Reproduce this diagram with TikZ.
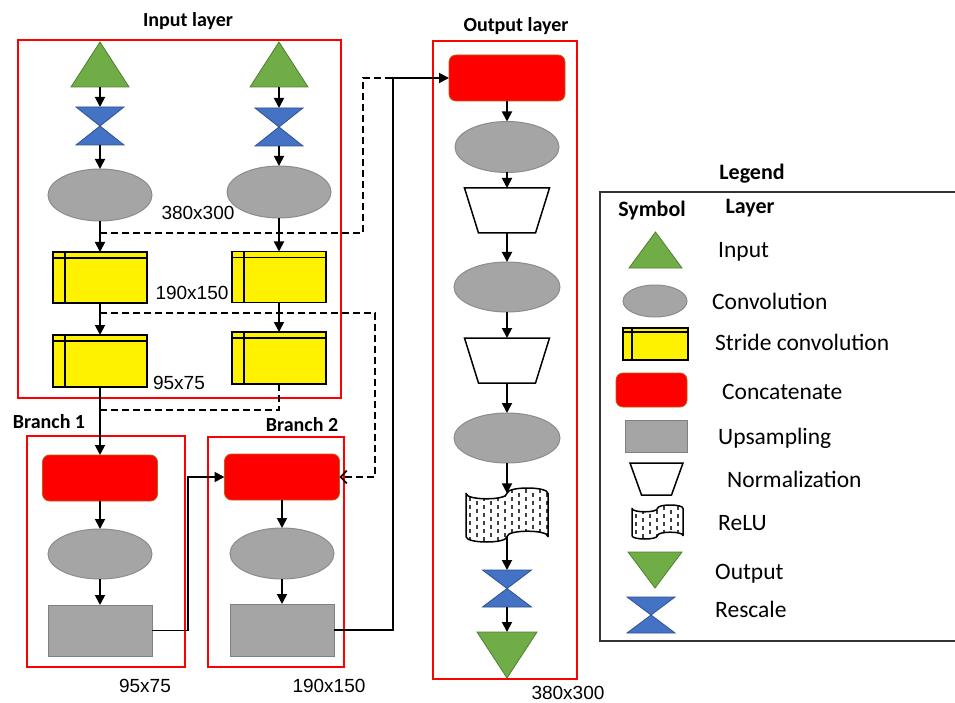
\documentclass[tikz,border=0pt]{standalone}
\usepackage{fontspec}
\setmainfont{Carlito}
\newfontfamily\dimfont{Liberation Sans}
\usetikzlibrary{arrows.meta,calc,shapes.geometric}
\definecolor{tgreen}{HTML}{70AD47}
\definecolor{tgreenE}{HTML}{507E32}
\definecolor{hblue}{HTML}{4472C4}
\definecolor{hblueE}{HTML}{2F528F}
\definecolor{cgrey}{HTML}{A5A5A5}
\definecolor{cgreyE}{HTML}{8C8C8C}
\definecolor{concE}{HTML}{C55A11}
\definecolor{upE}{HTML}{808080}
\tikzset{
 box/.style 2 args={rectangle,draw=none,inner sep=0pt,outer sep=0pt,minimum width=#1pt,minimum height=#2pt},
 conv/.style 2 args={ellipse,fill=cgrey,draw=cgreyE,line width=1pt,inner sep=0pt,outer sep=0pt,minimum width=#1pt,minimum height=#2pt},
 concat/.style 2 args={rectangle,rounded corners=7pt,fill=red,draw=concE,line width=0.8pt,inner sep=0pt,outer sep=0pt,minimum width=#1pt,minimum height=#2pt},
 upsamp/.style 2 args={rectangle,fill=cgrey,draw=upE,line width=0.8pt,inner sep=0pt,outer sep=0pt,minimum width=#1pt,minimum height=#2pt},
 stride/.style 2 args={rectangle,fill=yellow,draw=black,line width=1.3pt,inner sep=0pt,outer sep=0pt,minimum width=#1pt,minimum height=#2pt},
 greenshape/.style={fill=tgreen,draw=tgreenE,line width=0.8pt},
 blueshape/.style={fill=hblue,draw=hblueE,line width=0.8pt},
 trapshape/.style={fill=white,draw=black,line width=1.5pt},
 frame/.style={draw=red,line width=1.3pt},
 conn/.style={line width=1.8pt,-{Triangle[length=10pt,width=10pt]}},
 dashconn/.style={line width=1.8pt,dash pattern=on 7pt off 4pt},
 hdr/.style={font=\bfseries\fontsize{20}{24}\selectfont,inner sep=0pt,text height=13pt,text depth=0pt},
 dimlbl/.style={font=\dimfont\fontsize{19}{22}\selectfont,inner sep=0pt,text height=13.6pt,text depth=0pt},
 leg/.style={font=\fontsize{23.5}{28}\selectfont,anchor=west,inner sep=0pt,text height=15pt,text depth=0pt},
 leghdr/.style={font=\bfseries\fontsize{22}{26}\selectfont,inner sep=0pt,text height=14pt,text depth=0pt},
}
\newcommand\mktri[5]{\node[box={#4}{#5}] (#1) at (#2,#3) {};
 \draw[greenshape] (#1.north) -- (#1.south east) -- (#1.south west) -- cycle;}
\newcommand\mkdtri[5]{\node[box={#4}{#5}] (#1) at (#2,#3) {};
 \draw[greenshape] (#1.north west) -- (#1.north east) -- (#1.south) -- cycle;}
\newcommand\mkhour[5]{\node[box={#4}{#5}] (#1) at (#2,#3) {};
 \draw[blueshape] (#1.north west) -- (#1.north east) -- (#1.south west) -- (#1.south east) -- cycle;}
\newcommand\mktrap[6]{\node[box={#4}{#5}] (#1) at (#2,#3) {};
 \draw[trapshape] (#1.north west) -- (#1.north east) -- ([xshift=-#6pt]#1.south east) -- ([xshift=#6pt]#1.south west) -- cycle;}
\newcommand\mkstride[7]{\node[stride={#4}{#5}] (#1) at (#2,#3) {};
 \draw[line width=1.3pt] ([xshift=#6pt]#1.north west) -- ([xshift=#6pt]#1.south west);
 \draw[line width=1.3pt] ([yshift=-#7pt]#1.north west) -- ([yshift=-#7pt]#1.north east);}
\newcommand\mkrelu[5]{\node[box={#4}{#5}] (#1) at (#2,#3) {};
 \pgfmathsetmacro\rlx{#2-#4/2}%
 \pgfmathsetmacro\rly{#3-#5/2}%
 \pgfmathsetmacro\rlr{#2+#4/2}%
 \pgfmathsetmacro\rltb{#3-#5/2+#5/10}%
 \pgfmathsetmacro\rlbb{#3+#5/2-#5/10}%
 \pgfmathsetmacro\rlk{4/3*#5/10}%
 \pgfmathtruncatemacro\rlni{#4/7}%
 \pgfmathtruncatemacro\rlnj{#5/8}%
 \begin{scope}
  \clip (\rlx,\rltb) .. controls (\rlx,\rltb+\rlk) and (#2,\rltb+\rlk) .. (#2,\rltb)
   .. controls (#2,\rltb-\rlk) and (\rlr,\rltb-\rlk) .. (\rlr,\rltb) -- (\rlr,\rlbb)
   .. controls (\rlr,\rlbb-\rlk) and (#2,\rlbb-\rlk) .. (#2,\rlbb)
   .. controls (#2,\rlbb+\rlk) and (\rlx,\rlbb+\rlk) .. (\rlx,\rlbb) -- cycle;
  \fill[white] (\rlx,\rly) rectangle (\rlr,#3+#5/2);
  \foreach \i in {0,...,\rlni}{\foreach \j in {0,...,\rlnj}{
   \draw[line width=1.3pt,black!75] ({\rlx+4+\i*7},{\rly+1+\j*8+mod(\i,2)*4}) -- ++(0,4);}}
 \end{scope}
 \draw[line width=1.5pt,line join=round] (\rlx,\rltb) .. controls (\rlx,\rltb+\rlk) and (#2,\rltb+\rlk) .. (#2,\rltb)
   .. controls (#2,\rltb-\rlk) and (\rlr,\rltb-\rlk) .. (\rlr,\rltb) -- (\rlr,\rlbb)
   .. controls (\rlr,\rlbb-\rlk) and (#2,\rlbb-\rlk) .. (#2,\rlbb)
   .. controls (#2,\rlbb+\rlk) and (\rlx,\rlbb+\rlk) .. (\rlx,\rlbb) -- cycle;}
\begin{document}
\begin{tikzpicture}[x=1pt,y=-1pt]
\useasboundingbox (0,0) rectangle (955,703);
\fill[white] (0,0) rectangle (955,703);

% ---------- Input layer ----------
\node[hdr] (inlbl) at (188,20) {Input layer};
\draw[frame] (18,40) rectangle (341,398);
\mktri{tL}{100}{64.5}{58}{45}
\mkhour{hL}{100}{126}{48}{38}
\node[conv={104}{52}] (eL) at (100,195) {};
\mkstride{y1L}{100}{277.5}{94}{51}{12}{6}
\mkstride{y2L}{100}{361}{94}{52}{12}{6}
\mktri{tR}{279}{64.5}{58}{45}
\mkhour{hR}{279}{127}{48}{38}
\node[conv={104}{52}] (eR) at (279,192) {};
\mkstride{y1R}{279}{277}{94}{51}{12}{6}
\mkstride{y2R}{279}{358}{94}{52}{12}{6}
\node[dimlbl] (d380a) at (198,213) {380x300};
\node[dimlbl] (d190a) at (192,293) {190x150};
\node[dimlbl] (d95a) at (179,383) {95x75};

% ---------- Branch 1 ----------
\node[hdr] (b1lbl) at (49,422) {Branch 1};
\draw[frame] (27,436) rectangle (185,667);
\node[concat={115}{46}] (c1) at (100,478) {};
\node[conv={104}{50}] (e1) at (100,554) {};
\node[upsamp={104}{51}] (u1) at (100,630.5) {};
\node[dimlbl] (d95b) at (145,686) {95x75};

% ---------- Branch 2 ----------
\node[hdr] (b2lbl) at (302,425) {Branch 2};
\draw[frame] (208,437) rectangle (344,667);
\node[concat={115}{46}] (c2) at (282,477) {};
\node[conv={104}{51}] (e2) at (282,553.5) {};
\node[upsamp={104}{52}] (u2) at (282,630) {};
\node[dimlbl] (d190b) at (329,686) {190x150};

% ---------- Output layer ----------
\node[hdr] (outlbl) at (516,25) {Output layer};
\draw[frame] (433,41) rectangle (577,679);
\node[concat={116}{46}] (c3) at (507,78) {};
\node[conv={104}{51}] (e3a) at (507,147) {};
\mktrap{tr1}{507}{210.5}{85}{45}{14}
\node[conv={106}{50}] (e3b) at (507,287) {};
\mktrap{tr2}{507}{360.5}{85}{45}{14}
\node[conv={106}{50}] (e3c) at (507,438) {};
\mkrelu{rl}{507}{515}{82}{54}
\mkhour{h3}{507}{588.5}{49}{37}
\mkdtri{o3}{507}{655}{60}{46}
\node[dimlbl] (d380b) at (568,693) {380x300};

% ---------- connectors ----------
\draw[conn] (tL.south) -- (hL.north);
\draw[conn] (hL.south) -- (eL.north);
\draw[conn] (eL.south) -- (y1L.north);
\draw[conn] (y1L.south) -- (y2L.north);
\draw[conn] (y2L.south) -- (c1.north);
\draw[conn] (tR.south) -- (hR.north);
\draw[conn] (hR.south) -- (eR.north);
\draw[conn] (eR.south) -- (y1R.north);
\draw[conn] (y1R.south) -- (y2R.north);
\draw[conn] (c1.south) -- (e1.north);
\draw[conn] (e1.south) -- (u1.north);
\draw[conn] (c2.south) -- (e2.north);
\draw[conn] (e2.south) -- (u2.north);
\coordinate (d1) at (100,233);
\coordinate (d2) at (100,313);
\coordinate (d3) at (100,410);
\draw[dashconn] (d1) -- ++(263,0) |- (c3.west);
\draw[dashconn,-{Straight Barb[length=6pt,width=13pt]}] (d2) -- ++(275,0) |- (c2.east);
\draw[dashconn] (y2R.south) |- (d3);
\draw[conn] (u1.east) -- ++(36,0) |- (c2.west);
\draw[conn] (u2.east) -- ++(59,0) |- (c3.west);
\draw[conn] (c3.south) -- (e3a.north);
\draw[conn] (e3a.south) -- (tr1.north);
\draw[conn] (tr1.south) -- (e3b.north);
\draw[conn] (e3b.south) -- (tr2.north);
\draw[conn] (tr2.south) -- (e3c.north);
\draw[conn] (e3c.south) -- ($(rl.north)+(0,5.4)$);
\draw[conn] ($(rl.south)+(0,-5.4)$) -- (h3.north);
\draw[conn] (h3.south) -- (o3.north);

% ---------- Legend ----------
\node[leghdr] (leglbl) at (752,173) {Legend};
\draw[line width=1.5pt,black!80] (960,192) -- (600,192) -- (600,641) -- (960,641);
\node[leghdr] (symlbl) at (652,210) {Symbol};
\node[leghdr] (laylbl) at (750,207) {Layer};
\mktri{lt}{655.5}{250}{53}{36}
\node[conv={64}{32}] (le) at (655,301) {};
\mkstride{ly}{655.5}{344}{65}{32}{9}{4}
\node[concat={71}{34}] (lc) at (651.5,390) {};
\node[upsamp={62}{32}] (lu) at (656,436) {};
\mktrap{ln}{656.5}{479}{53}{32}{11.5}
\mkrelu{lr}{657.5}{522}{51}{34}
\mkdtri{lo}{655}{570}{54}{36}
\mkhour{lh}{651}{615}{48}{36}
\node[leg] (lt1) at (718,250) {Input};
\node[leg] (le1) at (712,302) {Convolution};
\node[leg] (ly1) at (715,343) {Stride convolution};
\node[leg] (lc1) at (722,392) {Concatenate};
\node[leg] (lu1) at (718,437) {Upsampling};
\node[leg] (ln1) at (727,480) {Normalization};
\node[leg] (lr1) at (718,523) {ReLU};
\node[leg] (lo1) at (715,572) {Output};
\node[leg] (lh1) at (715,610) {Rescale};
\end{tikzpicture}
\end{document}
